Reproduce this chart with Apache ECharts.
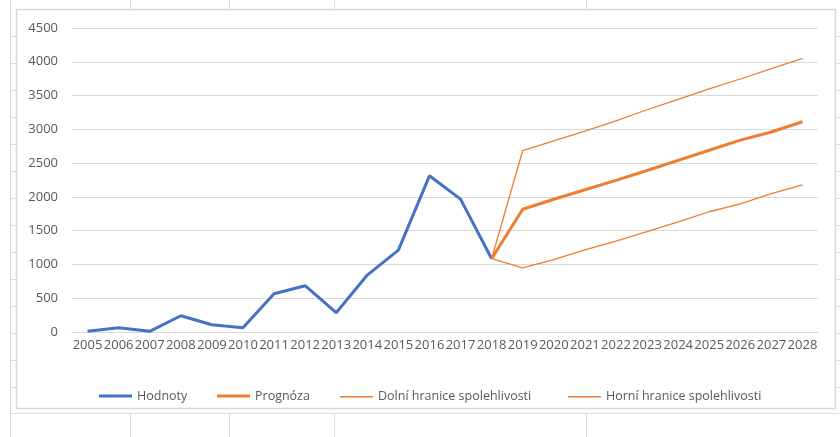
<!DOCTYPE html>
<html>
<head>
<meta charset="utf-8">
<script src="https://cdn.jsdelivr.net/npm/echarts@6/dist/echarts.min.js"></script>
<style>
  html, body { margin: 0; padding: 0; background: #fff; }
  #main { width: 840px; height: 437px; }
</style>
</head>
<body>
<div id="main"></div>
<script>
// roky
var years = ['2005', '2006', '2007', '2008', '2009', '2010', '2011', '2012', '2013', '2014', '2015', '2016',
  '2017', '2018', '2019', '2020', '2021', '2022', '2023', '2024', '2025', '2026', '2027', '2028']
// skutecne hodnoty (2005 - 2018)
var hodnoty = [10, 64, 10, 241, 108, 64, 567, 685, 286, 843, 1213, 2312, 1967, 1085,
  null, null, null, null, null, null, null, null, null, null]
// prognoza a hranice (2018 - 2028)
var prognoza = [null, null, null, null, null, null, null, null, null, null, null, null, null,
  1085, 1817, 1965, 2105, 2245, 2390, 2540, 2690, 2840, 2960, 3112]
var dolni = [null, null, null, null, null, null, null, null, null, null, null, null, null,
  1085, 950, 1070, 1215, 1345, 1485, 1630, 1780, 1895, 2050, 2178]
var horni = [null, null, null, null, null, null, null, null, null, null, null, null, null,
  1085, 2686, 2830, 2975, 3125, 3290, 3445, 3600, 3745, 3900, 4050]
var yTicks = { min: 0, max: 4500, step: 500 }
var names = ['Hodnoty', 'Prognóza', 'Dolní hranice spolehlivosti', 'Horní hranice spolehlivosti']

var cellLine = '#dcdcdc'
var frameLine = '#d9d9d9'
var txt = '#595959'
var font = '"Open Sans", "Liberation Sans", sans-serif'

// mrizka tabulky v pozadi
var sheet = []
function vline(x, y1, y2, c) {
  sheet.push({ type: 'line', silent: true, z: -10, shape: { x1: x, y1: y1, x2: x, y2: y2 }, style: { stroke: c || cellLine, lineWidth: 1 } })
}
function hline(y, x1, x2, c) {
  sheet.push({ type: 'line', silent: true, z: -10, shape: { x1: x1, y1: y, x2: x2, y2: y }, style: { stroke: c || cellLine, lineWidth: 1 } })
}
vline(10.5, 0, 437)
;[130.5, 229.5, 334.5, 586.5].forEach(function(x) {
  vline(x, 0, 10)
  vline(x, 413, 437)
})
hline(413.5, 10, 840)
;[36.5, 63.5, 90.5, 117.5, 144.5, 171.5, 198.5, 225.5, 252.5, 279.5, 306.5, 333.5, 360.5, 387.5].forEach(function(y) {
  hline(y, 10, 16)
  hline(y, 836, 840)
})
// ramecek grafu
sheet.push({
  type: 'rect', silent: true, z: -5,
  shape: { x: 16.5, y: 9.5, width: 819, height: 399 },
  style: { fill: '#fff', stroke: frameLine, lineWidth: 1.5 }
})

// legenda - kazda polozka zvlast, aby sedela pozice a tloustka cary
function legendItem(name, left, h) {
  return {
    left: left,
    top: 386 - h / 2,
    icon: 'rect',
    itemWidth: 33,
    itemHeight: h,
    textStyle: { color: txt, fontSize: 12.5, fontFamily: font },
    data: [name]
  }
}

var chart = echarts.init(document.getElementById('main'))
chart.setOption({
  backgroundColor: '#fff',
  animation: false,
  graphic: sheet,
  grid: {
    left: 72,
    right: 22,
    top: 28,
    bottom: 105
  },
  legend: [
    legendItem(names[0], 94, 3),
    legendItem(names[1], 212, 3),
    legendItem(names[2], 335, 1.5),
    legendItem(names[3], 563, 1.5)
  ],
  xAxis: {
    type: 'category',
    data: years,
    axisLine: { show: true, lineStyle: { color: frameLine } },
    axisTick: { show: false },
    axisLabel: { interval: 0, color: txt, fontSize: 13, fontFamily: font, margin: 7 }
  },
  yAxis: {
    type: 'value',
    min: yTicks.min,
    max: yTicks.max,
    interval: yTicks.step,
    axisLine: { show: false },
    axisTick: { show: false },
    axisLabel: {
      color: txt, fontSize: 13, fontFamily: font, margin: 14,
      formatter: function(v) { return String(v) }
    },
    splitLine: { lineStyle: { color: frameLine } }
  },
  series: [
    {
      name: names[0],
      type: 'line',
      data: hodnoty,
      symbol: 'none',
      color: '#4472C4',
      lineStyle: { width: 3, color: '#4472C4' }
    },
    {
      name: names[1],
      type: 'line',
      data: prognoza,
      symbol: 'none',
      color: '#ED7D31',
      lineStyle: { width: 3, color: '#ED7D31' }
    },
    {
      name: names[2],
      type: 'line',
      data: dolni,
      symbol: 'none',
      color: '#ED7D31',
      lineStyle: { width: 1.3, color: '#ED7D31' }
    },
    {
      name: names[3],
      type: 'line',
      data: horni,
      symbol: 'none',
      color: '#ED7D31',
      lineStyle: { width: 1.3, color: '#ED7D31' }
    }
  ]
})
</script>
</body>
</html>
